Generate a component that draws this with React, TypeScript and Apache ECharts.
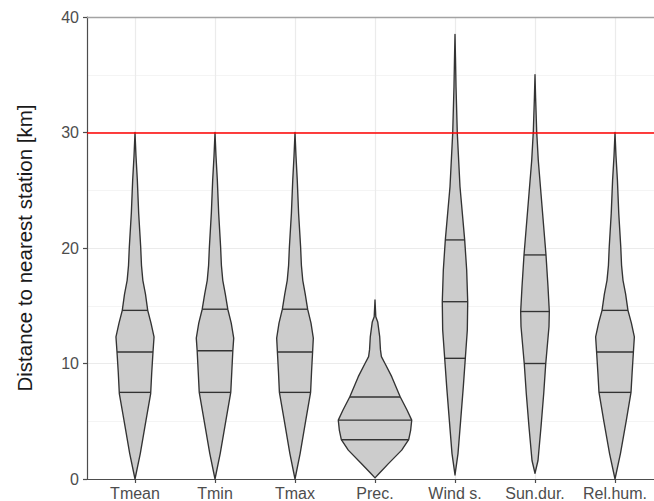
import React, { useEffect, useRef } from 'react';
import * as echarts from 'echarts';

const categories = ['Tmean', 'Tmin', 'Tmax', 'Prec.', 'Wind s.', 'Sun.dur.', 'Rel.hum.'];
const yTicks = [0, 10, 20, 30, 40];
const threshold = 30;

// Violin outlines: distance level (km) and half-width (in category units)
const tmeanY = [0, 2.2, 5.1, 7.4, 9.2, 11.0, 12.3, 13.5, 14.6, 16.0, 17.2, 18.5, 20.1, 23.0, 25.9, 28.0, 30.0];
const tmeanW = [0, 0.066, 0.138, 0.196, 0.209, 0.225, 0.238, 0.2, 0.159, 0.131, 0.098, 0.081, 0.071, 0.046, 0.029, 0.012, 0];
const tminY = [0, 2.2, 5.1, 7.5, 9.3, 11.1, 12.2, 13.5, 14.7, 16.0, 17.2, 18.5, 20.1, 23.0, 25.9, 28.0, 30.0];
const tminW = [0, 0.065, 0.137, 0.197, 0.21, 0.223, 0.234, 0.203, 0.16, 0.129, 0.097, 0.08, 0.07, 0.046, 0.029, 0.012, 0];
const tmaxY = [0, 2.2, 5.1, 7.5, 9.3, 11.0, 12.2, 13.5, 14.7, 16.0, 17.2, 18.5, 20.1, 23.0, 25.9, 28.0, 30.0];
const tmaxW = [0, 0.064, 0.135, 0.195, 0.207, 0.22, 0.229, 0.2, 0.158, 0.128, 0.097, 0.08, 0.07, 0.045, 0.028, 0.012, 0];
const precY = [0.1, 0.5, 1.35, 2.5, 3.4, 4.24, 5.1, 5.97, 7.1, 8.86, 10.0, 10.6, 11.2, 12.3, 13.6, 14.05, 15.5];
const precW = [0, 0.054, 0.171, 0.334, 0.421, 0.446, 0.459, 0.4, 0.316, 0.209, 0.125, 0.08, 0.068, 0.059, 0.034, 0.01, 0];
const windY = [0.35, 2.2, 5.1, 8.0, 10.45, 12.9, 15.35, 18.1, 20.7, 25.3, 29.9, 34.0, 36.5, 38.5];
const windW = [0, 0.0375, 0.071, 0.104, 0.129, 0.154, 0.159, 0.146, 0.121, 0.0625, 0.029, 0.0125, 0.006, 0];
const sunY = [0.5, 1.6, 4.5, 7.4, 9.96, 13.2, 14.5, 16.65, 19.4, 24.7, 27.6, 30.1, 33.0, 35.0];
const sunW = [0, 0.0375, 0.075, 0.109, 0.134, 0.175, 0.179, 0.1625, 0.1375, 0.075, 0.041, 0.021, 0.0075, 0];
const relhumY = [0, 2.2, 5.1, 7.5, 9.2, 11.0, 12.3, 13.5, 14.6, 16.0, 17.2, 18.5, 20.1, 23.0, 25.9, 28.0, 30.0];
const relhumW = [0, 0.068, 0.142, 0.2, 0.214, 0.23, 0.242, 0.205, 0.162, 0.133, 0.1, 0.082, 0.072, 0.047, 0.03, 0.012, 0];

// Quartiles drawn inside each violin
const q1 = [7.5, 7.5, 7.5, 3.4, 10.45, 10.0, 7.5];
const medians = [11.0, 11.1, 11.0, 5.1, 15.35, 14.5, 11.0];
const q3 = [14.6, 14.7, 14.7, 7.1, 20.7, 19.4, 14.6];

const profilesY = [tmeanY, tminY, tmaxY, precY, windY, sunY, relhumY];
const profilesW = [tmeanW, tminW, tmaxW, precW, windW, sunW, relhumW];

const FONT = '"Liberation Sans", Arial, Helvetica, sans-serif';

function widthAt(ys: number[], ws: number[], v: number): number {
  for (let k = 0; k < ys.length - 1; k++) {
    if (v >= ys[k] && v <= ys[k + 1]) {
      const t = (v - ys[k]) / (ys[k + 1] - ys[k]);
      return ws[k] + t * (ws[k + 1] - ws[k]);
    }
  }
  return 0;
}

export default function App() {
  const ref = useRef<HTMLDivElement>(null);
  useEffect(() => {
    if (!ref.current) return;
    const chart = echarts.init(ref.current, undefined, { renderer: 'svg' });
    const positions = categories.map((_, i) => i);
    const option: any = {
      animation: false,
      backgroundColor: '#ffffff',
      grid: { left: 87, top: 17, bottom: 22, right: 17, containLabel: false },
      xAxis: [
        {
          type: 'value',
          min: -0.6,
          max: categories.length - 0.4,
          axisLine: { show: true, onZero: false, lineStyle: { color: '#4d4d4d', width: 1.2 } },
          axisTick: { show: true, customValues: positions, length: 4, lineStyle: { color: '#4d4d4d', width: 1.2 } },
          axisLabel: {
            customValues: positions,
            formatter: (v: number) => categories[Math.round(v)] ?? '',
            fontSize: 16,
            color: '#4d4d4d',
            fontFamily: FONT,
            margin: 6,
          },
          splitLine: { show: true, lineStyle: { color: '#ebebeb', width: 1.2 } },
        },
        {
          type: 'value',
          position: 'top',
          min: -0.6,
          max: categories.length - 0.4,
          axisLine: { show: true, onZero: false, lineStyle: { color: '#a3a3a3', width: 1.3 } },
          axisTick: { show: false },
          axisLabel: { show: false },
          splitLine: { show: false },
        },
      ],
      yAxis: {
        type: 'value',
        min: yTicks[0],
        max: yTicks[yTicks.length - 1],
        interval: yTicks[1] - yTicks[0],
        name: 'Distance to nearest station [km]',
        nameLocation: 'middle',
        nameGap: 52,
        nameTextStyle: { fontSize: 20.5, color: '#1a1a1a', fontFamily: FONT },
        axisLine: { show: true, onZero: false, lineStyle: { color: '#4d4d4d', width: 1.2 } },
        axisTick: { show: true, length: 4, lineStyle: { color: '#4d4d4d', width: 1.2 } },
        axisLabel: { fontSize: 16, color: '#4d4d4d', fontFamily: FONT, margin: 8 },
        splitLine: { show: true, lineStyle: { color: '#ebebeb', width: 1.2 } },
        minorTick: { show: false, splitNumber: 2 },
        minorSplitLine: { show: true, lineStyle: { color: '#f4f4f4', width: 1 } },
      },
      series: [
        {
          type: 'custom',
          coordinateSystem: 'cartesian2d',
          xAxisIndex: 0,
          yAxisIndex: 0,
          data: categories.map((_, i) => [i, medians[i]]),
          encode: { x: 0, y: 1 },
          renderItem: (params: any, api: any) => {
            const i = params.dataIndex;
            const ys = profilesY[i];
            const ws = profilesW[i];
            const right = ys.map((y, k) => api.coord([i + ws[k], y]));
            const left = ys.map((y, k) => api.coord([i - ws[k], y])).reverse();
            const children: any[] = [
              {
                type: 'polygon',
                shape: { points: right.concat(left) },
                style: { fill: '#cccccc', stroke: '#333333', lineWidth: 1.35, lineJoin: 'round' },
              },
            ];
            [q1[i], medians[i], q3[i]].forEach((q) => {
              const w = widthAt(ys, ws, q);
              const a = api.coord([i - w, q]);
              const b = api.coord([i + w, q]);
              children.push({
                type: 'line',
                shape: { x1: a[0], y1: a[1], x2: b[0], y2: b[1] },
                style: { stroke: '#333333', lineWidth: 1.35 },
              });
            });
            return { type: 'group', children };
          },
          markLine: {
            silent: true,
            symbol: ['none', 'none'],
            label: { show: false },
            lineStyle: { color: '#ff0000', width: 1.6, type: 'solid' },
            data: [{ yAxis: threshold }],
          },
        },
      ],
    };
    chart.setOption(option);
    return () => chart.dispose();
  }, []);
  return (
    <div style={{ position: 'absolute', left: 0, top: 0, width: 654, height: 501, overflow: 'hidden', background: '#fff' }}>
      <div ref={ref} style={{ width: 680, height: 501 }} />
    </div>
  );
}
